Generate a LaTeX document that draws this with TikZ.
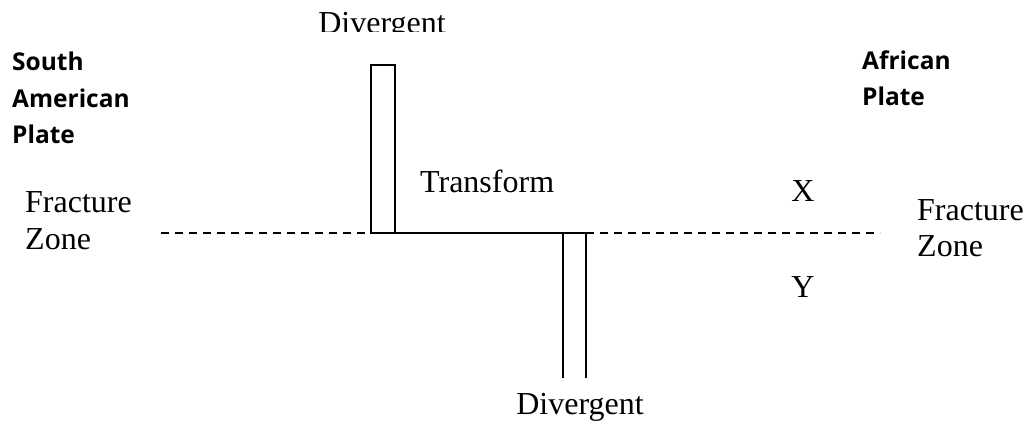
\documentclass[tikz,border=0pt]{standalone}
\usepackage{fontspec}
\setmainfont{Liberation Serif}
\newfontfamily\platefont{Open Sans}
\usetikzlibrary{positioning}

\begin{document}
\begin{tikzpicture}[x=1pt, y=-1pt,
      lbl/.style={inner sep=0pt, font=\fontsize{32}{37}\selectfont},
      plate/.style={inner sep=0pt, font=\platefont\bfseries\fontsize{24.5}{37}\selectfont},
      ridge/.style={line width=1.8pt, line cap=rect},
      zone/.style={line width=1.8pt, dash pattern=on 8pt off 6pt}]
    \useasboundingbox (0,0) rectangle (1029,423);
    % ridge segments and transform fault
    \coordinate (ntl) at (371,65);
    \coordinate (ntr) at (395,65);
    \coordinate (nbl) at (371,233);
    \coordinate (nbr) at (395,233);
    \coordinate (stl) at (563,233);
    \coordinate (str) at (586,233);
    \coordinate (sbl) at (563,377);
    \coordinate (sbr) at (586,377);
    \draw[ridge] (nbl) -- (ntl) -- (ntr) -- (nbr);
    \draw[ridge] (nbl) -- (str);
    \draw[ridge] (stl) -- (sbl);
    \draw[ridge] (str) -- (sbr);
    % fracture zones
    \coordinate (fzw) at (161,233);
    \coordinate (fze) at (880,233);
    \draw[zone] (fzw) -- (nbl);
    \draw[zone] (str) -- (fze);
    % labels
    \begin{scope}
      \clip (0,0) rectangle (1029,31);
      \node[lbl, anchor=base] (divN) at (382,33) {Divergent};
    \end{scope}
    \node[lbl, anchor=base] (divS) at (580,414) {Divergent};
    \node[lbl, anchor=base west] (trans) at (420,192) {Transform};
    \node[lbl, anchor=base west] (fzWa) at (25,212) {Fracture};
    \node[lbl, anchor=base west] (fzWb) at (25,249) {Zone};
    \node[lbl, anchor=base west] (fzEa) at (917,220) {Fracture};
    \node[lbl, anchor=base west] (fzEb) at (917,256) {Zone};
    \node[lbl, anchor=base] (ptX) at (803,201) {X};
    \node[lbl, anchor=base] (ptY) at (803,297) {Y};
    \node[plate, anchor=base west] (saA) at (12,70) {South};
    \node[plate, anchor=base west] (saB) at (12,107) {American};
    \node[plate, anchor=base west] (saC) at (12,143) {Plate};
    \node[plate, anchor=base west] (afA) at (862,69) {African};
    \node[plate, anchor=base west] (afB) at (862,105) {Plate};
\end{tikzpicture}
\end{document}
